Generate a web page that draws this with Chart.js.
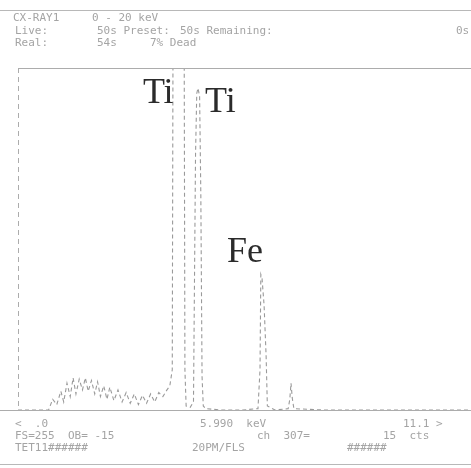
<!DOCTYPE html>
<html>
<head>
<meta charset="utf-8">
<script src="https://cdn.jsdelivr.net/npm/chart.js@4.4.1/dist/chart.umd.min.js"></script>
<style>
  body { margin: 0; background: #fff; }
  #wrap { position: relative; width: 471px; height: 468px; overflow: hidden; background: #fff; }
  #spec { position: absolute; left: 0; top: 0; }
  .t { position: absolute; font: 11px "DejaVu Sans Mono", monospace; color: #a4a4a4; white-space: pre; line-height: 11px; }
  .rule { position: absolute; left: 0; width: 471px; height: 0; border-top: 1px solid #b8b8b8; }
</style>
</head>
<body>
<div id="wrap">
  <canvas id="spec" width="471" height="468"></canvas>
  <div class="rule" style="top:10px"></div>
  <div class="t" style="left:13px;top:12px">CX-RAY1</div>
  <div class="t" style="left:92px;top:12px">0 - 20 keV</div>
  <div class="t" style="left:15px;top:25px">Live:</div>
  <div class="t" style="left:97px;top:25px">50s Preset:</div>
  <div class="t" style="left:180px;top:25px">50s Remaining:</div>
  <div class="t" style="left:456px;top:25px">0s</div>
  <div class="t" style="left:15px;top:37px">Real:</div>
  <div class="t" style="left:97px;top:37px">54s</div>
  <div class="t" style="left:150px;top:37px">7% Dead</div>

  <div class="t" style="left:15px;top:418px">&lt;  .0</div>
  <div class="t" style="left:200px;top:418px">5.990  keV</div>
  <div class="t" style="left:403px;top:418px">11.1 &gt;</div>
  <div class="t" style="left:15px;top:430px">FS=255  OB= -15</div>
  <div class="t" style="left:257px;top:430px">ch  307=</div>
  <div class="t" style="left:383px;top:430px">15  cts</div>
  <div class="t" style="left:15px;top:442px">TET11######</div>
  <div class="t" style="left:192px;top:442px">20PM/FLS</div>
  <div class="t" style="left:347px;top:442px">######</div>
  <div class="rule" style="top:464px"></div>
</div>
<script>
// spectrum, energy in keV, counts per channel (full scale 255)
const energyKeV = [0, 0.75, 0.85, 0.95, 1.05, 1.12, 1.2, 1.28, 1.35, 1.42, 1.5, 1.58, 1.65, 1.72, 1.8, 1.88,
    1.95, 2.02, 2.1, 2.18, 2.25, 2.35, 2.45, 2.55, 2.65, 2.75, 2.85, 2.95, 3.05, 3.15, 3.25, 3.35,
    3.45, 3.55, 3.65, 3.72, 3.78, 3.80, 4.07, 4.09, 4.12, 4.22, 4.30, 4.35, 4.38, 4.41, 4.45, 4.48,
    4.51, 4.54, 4.6, 5.0, 5.5, 5.88, 5.93, 5.95, 5.98, 6.03, 6.08, 6.11, 6.3, 6.62, 6.66, 6.69,
    6.72, 6.76, 7.5, 11.1];
const counts = [0, 0, 8, 4, 14, 6, 20, 10, 24, 12, 23, 15, 24, 14, 22, 12,
    21, 10, 18, 8, 17, 7, 15, 6, 13, 5, 12, 4, 11, 5, 12, 6,
    13, 10, 15, 18, 30, 300, 300, 30, 3, 2, 6, 190, 236, 240, 234, 160,
    25, 3, 1, 0, 0, 1, 30, 101, 98, 78, 40, 3, 0, 1, 8, 20,
    9, 1, 0, 0];

// element markers: [label, keV, counts at baseline]
const markerNames = ['Ti', 'Ti', 'Fe'];
const markerKeV = [3.06, 4.58, 5.12];
const markerCounts = [229, 222, 110];

const FULL_SCALE = 255;
const MAX_KEV = 11.1;

const frame = {
    id: 'frame',
    afterDraw(chart) {
        const { ctx, chartArea: a, scales } = chart;
        ctx.save();
        ctx.strokeStyle = '#acacac';
        ctx.lineWidth = 1;
        // top + bottom lines
        ctx.beginPath();
        ctx.moveTo(a.left, a.top + 0.5); ctx.lineTo(a.right, a.top + 0.5);
        ctx.moveTo(0, a.bottom + 0.5); ctx.lineTo(a.right, a.bottom + 0.5);
        ctx.stroke();
        // dashed left axis
        ctx.setLineDash([5, 4]);
        ctx.beginPath();
        ctx.moveTo(a.left + 0.5, a.top); ctx.lineTo(a.left + 0.5, a.bottom);
        ctx.stroke();
        ctx.setLineDash([]);
        // element labels
        ctx.fillStyle = '#2b2b2b';
        ctx.font = '36px "Liberation Serif", "DejaVu Serif", serif';
        ctx.textBaseline = 'alphabetic';
        markerNames.forEach((n, i) => {
            ctx.fillText(n, scales.x.getPixelForValue(markerKeV[i]), scales.y.getPixelForValue(markerCounts[i]));
        });
        ctx.restore();
    }
};

new Chart(document.getElementById('spec'), {
    type: 'scatter',
    data: {
        datasets: [{
            data: energyKeV.map((e, i) => ({ x: e, y: counts[i] })),
            showLine: true,
            borderColor: '#9a9a9a',
            borderWidth: 1.1,
            borderDash: [4, 3],
            pointRadius: 0,
            tension: 0
        }]
    },
    options: {
        responsive: false,
        animation: false,
        layout: { padding: { left: 18, top: 68, right: 0, bottom: 58 } },
        plugins: { legend: { display: false }, tooltip: { enabled: false } },
        scales: {
            x: { type: 'linear', min: 0, max: MAX_KEV, display: false },
            y: { min: 0, max: FULL_SCALE, display: false }
        }
    },
    plugins: [frame]
});
</script>
</body>
</html>
